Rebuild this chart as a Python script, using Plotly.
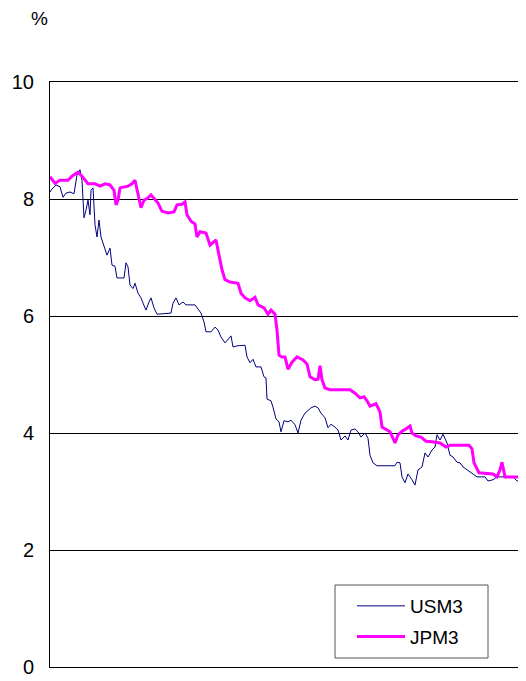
import plotly.graph_objects as go

# Period index (left to right) and values in %
usm3_t = [0, 2, 6, 10, 13, 16, 20, 24, 27, 30, 32, 34, 36, 38, 40, 41, 43, 45, 47, 49,
          51, 54, 57, 60, 62, 65, 67, 74, 76, 78, 80, 83, 85, 88, 91, 93, 96, 99, 101, 104,
          107, 121, 123, 126, 129, 133, 136, 145, 148, 151, 154, 156, 161, 165, 168, 171, 175, 178, 181, 183,
          187, 195, 197, 200, 203, 206, 211, 214, 216, 217, 221, 223, 226, 229, 231, 234, 238, 241, 245, 248,
          251, 255, 258, 261, 265, 268, 271, 275, 278, 281, 285, 288, 291, 295, 298, 301, 305, 308, 311, 315,
          318, 320, 323, 327, 345, 347, 350, 352, 355, 358, 362, 365, 368, 372, 375, 378, 382, 385, 387, 390,
          393, 397, 400, 403, 407, 410, 413, 417, 422, 427, 435, 438, 443, 447, 463, 467, 476]
usm3_v = [8.12, 8.17, 8.24, 8.21, 8.03, 8.10, 8.12, 8.09, 8.41, 8.50, 8.32, 7.68, 7.81, 7.98, 7.73, 8.15, 8.19, 7.56, 7.35, 7.64,
          7.35, 7.21, 7.04, 7.16, 6.87, 6.85, 6.65, 6.65, 6.91, 6.84, 6.53, 6.47, 6.56, 6.39, 6.31, 6.22, 6.10, 6.24, 6.31, 6.14,
          6.03, 6.05, 6.22, 6.31, 6.19, 6.24, 6.19, 6.19, 6.12, 6.05, 5.90, 5.73, 5.73, 5.81, 5.76, 5.64, 5.54, 5.61, 5.66, 5.47,
          5.49, 5.50, 5.30, 5.20, 5.26, 5.13, 5.13, 4.96, 4.94, 4.58, 4.55, 4.44, 4.24, 4.19, 4.02, 4.21, 4.19, 4.22, 4.14, 4.00,
          4.22, 4.34, 4.38, 4.43, 4.46, 4.43, 4.34, 4.26, 4.09, 4.15, 4.10, 4.05, 3.88, 3.95, 3.88, 4.05, 4.07, 4.02, 3.93, 4.00,
          3.91, 3.62, 3.49, 3.44, 3.44, 3.50, 3.49, 3.25, 3.15, 3.30, 3.20, 3.11, 3.37, 3.42, 3.66, 3.59, 3.71, 3.76, 3.97, 3.88,
          3.98, 3.83, 3.62, 3.59, 3.50, 3.49, 3.42, 3.37, 3.32, 3.25, 3.25, 3.18, 3.20, 3.25, 3.25, 3.18, 3.18]

jpm3_t = [0, 5, 10, 18, 22, 28, 32, 35, 38, 45, 50, 55, 60, 64, 66, 68, 70, 78, 82, 85,
          88, 91, 94, 98, 101, 105, 108, 112, 118, 124, 127, 132, 135, 137, 141, 145, 147, 150, 156, 160,
          163, 166, 169, 172, 175, 180, 188, 191, 195, 200, 205, 208, 214, 218, 221, 225, 227, 229, 232, 235,
          238, 242, 247, 253, 257, 260, 265, 268, 270, 272, 275, 280, 300, 305, 310, 314, 317, 320, 326, 330,
          332, 337, 340, 343, 345, 348, 352, 356, 360, 362, 366, 371, 376, 382, 390, 396, 400, 419, 422, 424,
          427, 429, 443, 447, 450, 452, 455, 476]
jpm3_v = [8.38, 8.27, 8.32, 8.32, 8.39, 8.46, 8.39, 8.32, 8.26, 8.26, 8.22, 8.26, 8.24, 8.15, 7.90, 7.98, 8.19, 8.22, 8.26, 8.32,
          8.07, 7.85, 7.98, 8.02, 8.07, 7.98, 7.93, 7.79, 7.76, 7.78, 7.90, 7.91, 7.95, 7.73, 7.62, 7.57, 7.35, 7.44, 7.42, 7.21,
          7.26, 7.30, 7.04, 6.79, 6.62, 6.58, 6.56, 6.39, 6.31, 6.26, 6.32, 6.19, 6.14, 6.03, 6.10, 6.03, 5.76, 5.33, 5.30, 5.30,
          5.09, 5.21, 5.30, 5.25, 5.18, 4.96, 4.91, 4.92, 5.15, 4.91, 4.77, 4.74, 4.74, 4.68, 4.60, 4.62, 4.55, 4.46, 4.50, 4.36,
          4.10, 4.05, 4.02, 3.91, 3.83, 3.97, 4.03, 4.07, 4.12, 4.00, 3.95, 3.93, 3.86, 3.85, 3.83, 3.76, 3.79, 3.79, 3.73, 3.49,
          3.37, 3.32, 3.30, 3.25, 3.37, 3.50, 3.25, 3.25]

y_ticks = [0, 2, 4, 6, 8, 10]
y_tick_labels = ["0", "2", "4", "6", "8", "10"]

FONT = "Liberation Sans, Arial, sans-serif"

# page body has an 8px margin: plot area target is x 50..526, y 82..667 on screen
OFF = 8
PL, PR, PT, PB = 50, 526, 82, 667
PW, PH = PR - PL, PB - PT


def px(x):
    return (x - PL) / PW


def py(y):
    return (PB - y) / PH


fig = go.Figure()
fig.add_trace(go.Scatter(x=usm3_t, y=usm3_v, mode="lines", name="USM3",
                         line=dict(color="#000080", width=1), legendgroup="a"))
fig.add_trace(go.Scatter(x=jpm3_t, y=jpm3_v, mode="lines", name="JPM3",
                         line=dict(color="#FF00FF", width=3), legendgroup="b"))

fig.update_layout(
    width=526 - OFF, height=681 - OFF,
    margin=dict(l=PL - OFF, r=0, t=PT - OFF, b=681 - PB, autoexpand=False),
    paper_bgcolor="white", plot_bgcolor="white",
    font=dict(family=FONT, size=20, color="black"),
    showlegend=True,
    legend=dict(x=px(352), y=py(587), xanchor="left", yanchor="top",
                bgcolor="rgba(0,0,0,0)", borderwidth=0,
                font=dict(size=19, family=FONT), traceorder="grouped",
                tracegroupgap=3, itemwidth=48),
    xaxis=dict(range=[0, 476], showgrid=False, showticklabels=False, ticks="",
               showline=True, mirror=True, linecolor="black", linewidth=1, zeroline=False,
               automargin=False, fixedrange=True),
    yaxis=dict(range=[0, 10], tickvals=y_ticks, ticktext=y_tick_labels,
               showgrid=True, gridcolor="black", gridwidth=1,
               showline=True, linecolor="black", linewidth=1, zeroline=False,
               ticks="", ticklabelstandoff=11, tickfont=dict(size=20),
               automargin=False, fixedrange=True),
    shapes=[dict(type="rect", xref="paper", yref="paper",
                 x0=px(335), x1=px(488), y0=py(658), y1=py(585),
                 fillcolor="white", line=dict(color="#555555", width=1), layer="above")],
    annotations=[dict(text="%", x=px(39), y=py(19),
                      xref="paper", yref="paper", xanchor="center", yanchor="middle",
                      showarrow=False, font=dict(size=19))],
)

fig.write_html("out.html")
